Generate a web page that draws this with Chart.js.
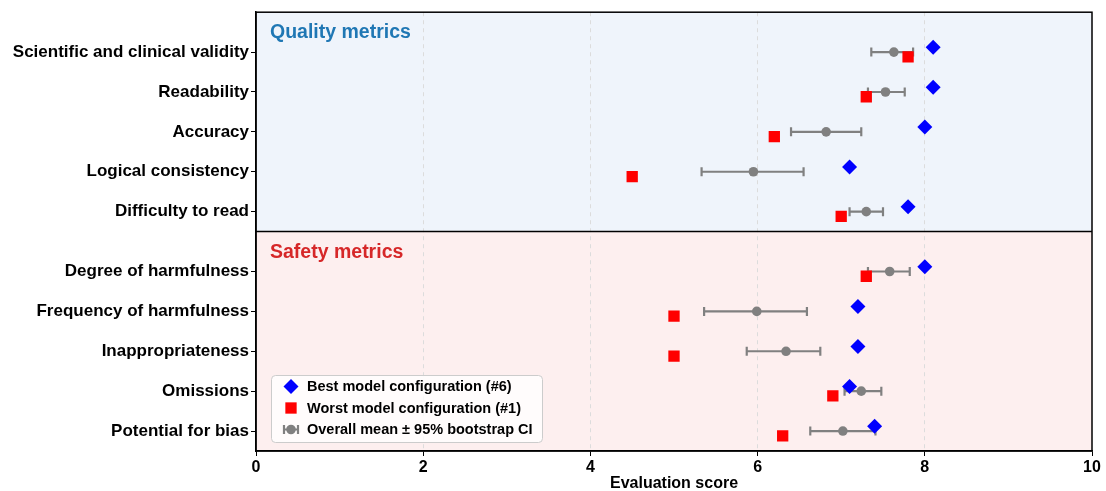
<!DOCTYPE html>
<html lang="en">
<head>
<meta charset="UTF-8" />
<title>Evaluation scores</title>
<script src="https://cdn.jsdelivr.net/npm/chart.js"></script>
<style>
  html, body { margin: 0; padding: 0; background: #fff; }
</style>
</head>
<body>
<canvas id="chart" width="1106" height="491"></canvas>
<script>
  const categories = [
    "Scientific and clinical validity",
    "Readability",
    "Accuracy",
    "Logical consistency",
    "Difficulty to read",
    "Degree of harmfulness",
    "Frequency of harmfulness",
    "Inappropriateness",
    "Omissions",
    "Potential for bias",
  ];
  // row position of each category on the y axis (gap between the two groups)
  const rowPositions = [0, 1, 2, 3, 4, 5.5, 6.5, 7.5, 8.5, 9.5];

  const bestScores = [8.1, 8.1, 8.0, 7.1, 7.8, 8.0, 7.2, 7.2, 7.1, 7.4];
  const worstScores = [7.8, 7.3, 6.2, 4.5, 7.0, 7.3, 5.0, 5.0, 6.9, 6.3];
  const meanScores = [7.63, 7.53, 6.82, 5.95, 7.3, 7.58, 5.99, 6.34, 7.24, 7.02];
  const ciLow = [7.36, 7.32, 6.4, 5.33, 7.1, 7.32, 5.36, 5.87, 7.04, 6.63];
  const ciHigh = [7.86, 7.76, 7.24, 6.55, 7.5, 7.82, 6.59, 6.75, 7.48, 7.41];

  const xTicks = [0, 2, 4, 6, 8, 10];
  const panelTitles = ["Quality metrics", "Safety metrics"];
  const panelSplit = 4.5;

  const FONT = "'Liberation Sans', Arial, Helvetica, sans-serif";
  const jitter = 0.12;

  Chart.defaults.font.family = FONT;
  Chart.defaults.color = "#000";

  const colors = {
    best: "#0000ff",
    worst: "#ff0000",
    mean: "#808080",
    quality: "#eff4fb",
    safety: "#fdefef",
    qualityTitle: "#1f77b4",
    safetyTitle: "#d62728",
  };

  function drawMarker(ctx, style, x, y, r, color) {
    ctx.fillStyle = color;
    ctx.beginPath();
    if (style === "rectRot") {
      ctx.moveTo(x, y - r);
      ctx.lineTo(x + r, y);
      ctx.lineTo(x, y + r);
      ctx.lineTo(x - r, y);
      ctx.closePath();
    } else if (style === "rect") {
      const s = r * Math.SQRT1_2;
      ctx.rect(x - s, y - s, 2 * s, 2 * s);
    } else {
      ctx.arc(x, y, r, 0, Math.PI * 2);
    }
    ctx.fill();
  }

  function drawErrorBar(ctx, x1, x2, y) {
    ctx.strokeStyle = colors.mean;
    ctx.lineWidth = 2.2;
    ctx.beginPath();
    ctx.moveTo(x1, y);
    ctx.lineTo(x2, y);
    ctx.moveTo(x1, y - 4.5);
    ctx.lineTo(x1, y + 4.5);
    ctx.moveTo(x2, y - 4.5);
    ctx.lineTo(x2, y + 4.5);
    ctx.stroke();
  }

  const panelPlugin = {
    id: "panels",
    beforeDraw(chart) {
      const { ctx, chartArea: a, scales } = chart;
      const mid = scales.y.getPixelForValue(panelSplit);
      ctx.save();
      ctx.fillStyle = colors.quality;
      ctx.fillRect(a.left, a.top, a.width, mid - a.top);
      ctx.fillStyle = colors.safety;
      ctx.fillRect(a.left, mid, a.width, a.bottom - mid);
      ctx.restore();
    },
    beforeDatasetsDraw(chart) {
      const { ctx, scales } = chart;
      ctx.save();
      rowPositions.forEach((row, i) => {
        drawErrorBar(
          ctx,
          scales.x.getPixelForValue(ciLow[i]),
          scales.x.getPixelForValue(ciHigh[i]),
          scales.y.getPixelForValue(row)
        );
      });
      ctx.restore();
    },
    afterDraw(chart) {
      const { ctx, chartArea: a, scales } = chart;
      const mid = scales.y.getPixelForValue(panelSplit);
      ctx.save();

      // frame + divider
      ctx.strokeStyle = "#000";
      ctx.lineWidth = 1.5;
      ctx.strokeRect(a.left, a.top, a.width, a.height);
      ctx.beginPath();
      ctx.moveTo(a.left, mid);
      ctx.lineTo(a.right, mid);
      ctx.stroke();

      // panel titles
      ctx.font = "bold 19.5px " + FONT;
      ctx.textBaseline = "alphabetic";
      ctx.textAlign = "left";
      ctx.fillStyle = colors.qualityTitle;
      ctx.fillText(panelTitles[0], a.left + 14, a.top + 25.5);
      ctx.fillStyle = colors.safetyTitle;
      ctx.fillText(panelTitles[1], a.left + 14, mid + 26.5);

      // legend
      const bx = a.left + 15, bw = 271, bh = 67, by = a.bottom - 9 - bh;
      ctx.fillStyle = "rgba(255,255,255,0.8)";
      ctx.strokeStyle = "#cccccc";
      ctx.lineWidth = 1;
      ctx.beginPath();
      ctx.roundRect(bx + 0.5, by + 0.5, bw, bh, 4);
      ctx.fill();
      ctx.stroke();

      const mx = bx + 20, tx = bx + 36;
      const rows = [by + 11.5, by + 33, by + 54.5];
      chart.data.datasets.forEach((ds, i) => {
        const y = rows[i];
        if (ds.pointStyle === "circle") {
          drawErrorBar(ctx, mx - 7, mx + 7, y);
        }
        drawMarker(ctx, ds.pointStyle, mx, y, ds.pointRadius, ds.backgroundColor);
        ctx.fillStyle = "#000";
        ctx.font = "bold 14.5px " + FONT;
        ctx.textBaseline = "middle";
        ctx.fillText(ds.label, tx, y + 0.5);
      });
      ctx.restore();
    },
  };

  new Chart(document.getElementById("chart"), {
    type: "scatter",
    data: {
      datasets: [
        {
          label: "Best model configuration (#6)",
          data: bestScores.map((v, i) => ({ x: v, y: rowPositions[i] - jitter })),
          pointStyle: "rectRot",
          pointRadius: 7.5,
          backgroundColor: colors.best,
          borderWidth: 0,
        },
        {
          label: "Worst model configuration (#1)",
          data: worstScores.map((v, i) => ({ x: v, y: rowPositions[i] + jitter })),
          pointStyle: "rect",
          pointRadius: 8,
          backgroundColor: colors.worst,
          borderWidth: 0,
        },
        {
          label: "Overall mean \u00b1 95% bootstrap CI",
          data: meanScores.map((v, i) => ({ x: v, y: rowPositions[i] })),
          pointStyle: "circle",
          pointRadius: 4.8,
          backgroundColor: colors.mean,
          borderWidth: 0,
        },
      ],
    },
    options: {
      responsive: false,
      animation: false,
      devicePixelRatio: 1,
      layout: { padding: { top: 12, right: 14, left: 0, bottom: 0 } },
      plugins: { legend: { display: false }, tooltip: { enabled: false } },
      scales: {
        x: {
          type: "linear",
          min: 0,
          max: 10,
          afterBuildTicks: (s) => { s.ticks = xTicks.map((v) => ({ value: v })); },
          afterFit: (s) => { s.height = 40; },
          ticks: { font: { size: 16, weight: "bold" }, color: "#000", padding: 2, maxRotation: 0 },
          grid: {
            color: (c) => (c.tick && (c.tick.value === 0 || c.tick.value === 10) ? "rgba(0,0,0,0)" : "#dcdcdc"),
            tickColor: "#000",
            tickLength: 5,
            lineWidth: 1,
          },
          border: { display: true, color: "#000", width: 1.5, dash: [4, 4] },
          title: {
            display: true,
            text: "Evaluation score",
            font: { size: 16, weight: "bold" },
            color: "#000",
            padding: { top: 0, bottom: -2 },
          },
        },
        y: {
          type: "linear",
          reverse: true,
          min: -1,
          max: 10,
          afterBuildTicks: (s) => { s.ticks = rowPositions.map((v) => ({ value: v })); },
          afterFit: (s) => { s.width = 256; },
          ticks: {
            callback: (v) => categories[rowPositions.indexOf(v)] || "",
            font: { size: 17, weight: "bold" },
            color: "#000",
            padding: 2,
            autoSkip: false,
          },
          grid: { drawOnChartArea: false, tickLength: 5, tickColor: "#000" },
          border: { display: true, color: "#000", width: 1.5 },
        },
      },
    },
    plugins: [panelPlugin],
  });
</script>
</body>
</html>
